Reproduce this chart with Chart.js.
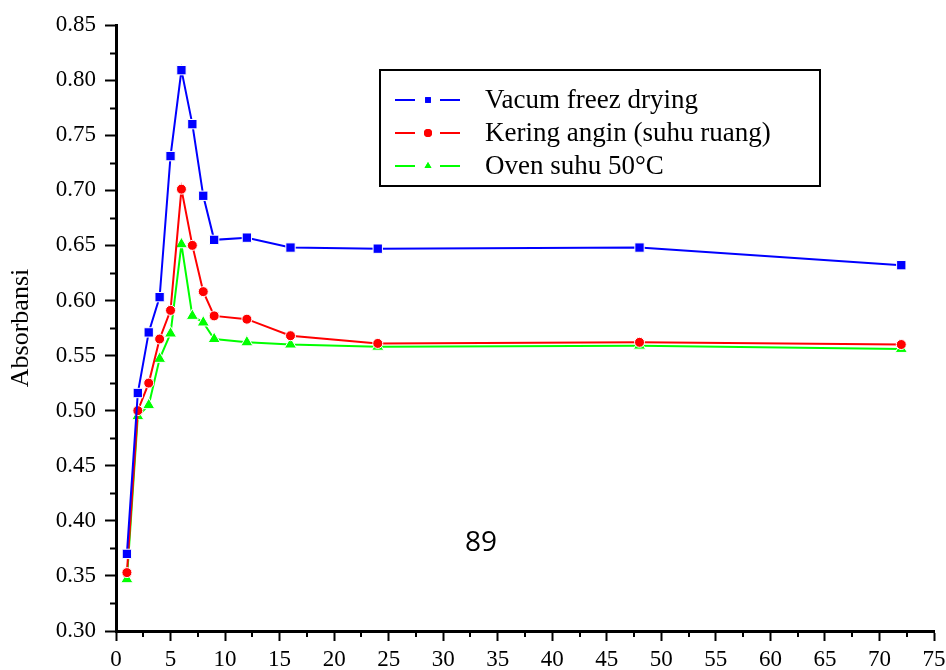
<!DOCTYPE html>
<html>
<head>
<meta charset="utf-8">
<script src="https://cdn.jsdelivr.net/npm/chart.js@4.4.1/dist/chart.umd.min.js"></script>
<style>
    html, body { margin: 0; padding: 0; background: #fff; }
    #wrap { width: 946px; height: 670px; }
</style>
</head>
<body>
<div id="wrap"><canvas id="line-chart" width="946" height="670"></canvas></div>
<script>
// waktu (x) dan absorbansi tiap metode pengeringan
var hours = [1, 2, 3, 4, 5, 6, 7, 8, 9, 12, 16, 24, 48, 72];
var vacumFreez = [0.370, 0.516, 0.571, 0.603, 0.731, 0.809, 0.760, 0.695, 0.655, 0.657, 0.648, 0.647, 0.648, 0.632];
var keringAngin = [0.353, 0.500, 0.525, 0.565, 0.591, 0.701, 0.650, 0.608, 0.586, 0.583, 0.568, 0.561, 0.562, 0.560];
var ovenSuhu = [0.347, 0.495, 0.505, 0.547, 0.570, 0.651, 0.586, 0.580, 0.565, 0.562, 0.560, 0.558, 0.559, 0.556];

var seriesNames = ["Vacum freez drying", "Kering angin (suhu ruang)", "Oven suhu 50\u00B0C"];
var xTicks = [0, 5, 10, 15, 20, 25, 30, 35, 40, 45, 50, 55, 60, 65, 70, 75];
var yTicks = [0.30, 0.35, 0.40, 0.45, 0.50, 0.55, 0.60, 0.65, 0.70, 0.75, 0.80, 0.85];
var pageNumber = "89";

var serif = "'Liberation Serif', 'Times New Roman', serif";

function toPoints(ys) {
    return hours.map(function (h, i) { return {x: h, y: ys[i]}; });
}

var colorArr = ["#0000FF", "#FF0000", "#00FF00"];
var styleArr = ["rect", "circle", "triangle"];
var radiusArr = [6.6, 5, 7];

var dataObject = [vacumFreez, keringAngin, ovenSuhu].map(function (ys, i) {
    return {
        label: seriesNames[i],
        data: toPoints(ys),
        borderColor: colorArr[i],
        backgroundColor: colorArr[i],
        borderWidth: 2,
        pointStyle: styleArr[i],
        pointRadius: radiusArr[i],
        pointBackgroundColor: colorArr[i],
        pointBorderColor: "#ffffff",
        pointBorderWidth: 1,
        fill: false,
        tension: 0
    };
});

// kotak legenda di dalam area plot + tick minor + nomor halaman
var extras = {
    id: "extras",
    afterDraw: function (chart) {
        var ctx = chart.ctx;
        var xs = chart.scales.x, ys = chart.scales.y;
        ctx.save();

        // minor ticks
        ctx.strokeStyle = "#000";
        ctx.lineWidth = 2;
        ctx.beginPath();
        for (var v = 0.325; v < 0.85; v += 0.05) {
            var py = Math.round(ys.getPixelForValue(v)) + 0.5;
            ctx.moveTo(ys.right - 6, py);
            ctx.lineTo(ys.right, py);
        }
        for (var u = 2.5; u < 75; u += 5) {
            var px = Math.round(xs.getPixelForValue(u));
            ctx.moveTo(px, xs.top);
            ctx.lineTo(px, xs.top + 6);
        }
        ctx.stroke();

        // legend box
        ctx.lineWidth = 2;
        ctx.strokeRect(380, 70, 440, 116);
        var rows = [100, 133, 166];
        chart.data.datasets.forEach(function (ds, i) {
            var y = rows[i];
            ctx.strokeStyle = ds.borderColor;
            ctx.lineWidth = 2;
            ctx.beginPath();
            ctx.moveTo(395, y); ctx.lineTo(415, y);
            ctx.moveTo(440, y); ctx.lineTo(460, y);
            ctx.stroke();
            ctx.fillStyle = ds.borderColor;
            Chart.helpers.drawPoint(ctx, {pointStyle: ds.pointStyle, radius: 4, borderWidth: 0}, 428, y);
            ctx.fill();
            ctx.fillStyle = "#000";
            ctx.font = "27px " + serif;
            ctx.textBaseline = "middle";
            ctx.textAlign = "left";
            ctx.fillText(ds.label, 485, y + 1);
        });

        // page number
        ctx.fillStyle = "#000";
        ctx.font = "28px 'Open Sans', sans-serif";
        ctx.textAlign = "center";
        ctx.textBaseline = "middle";
        ctx.fillText(pageNumber, 481, 543);
        ctx.restore();
    }
};

new Chart(document.getElementById("line-chart"), {
    type: "line",
    data: {datasets: dataObject},
    plugins: [extras],
    options: {
        responsive: false,
        animation: false,
        devicePixelRatio: 1,
        layout: {padding: {left: 0, right: 12, top: 25, bottom: 0}},
        plugins: {
            legend: {display: false},
            tooltip: {enabled: false}
        },
        scales: {
            x: {
                type: "linear",
                min: 0,
                max: 75,
                afterFit: function (scale) {
                    scale.height = 39;
                    scale.paddingLeft = 0;
                    scale.paddingRight = 0;
                },
                afterBuildTicks: function (scale) {
                    scale.ticks = xTicks.map(function (v) { return {value: v}; });
                },
                border: {display: true, color: "#000", width: 3},
                grid: {display: true, drawOnChartArea: false, drawTicks: true, tickLength: 10, tickWidth: 2, tickColor: "#000"},
                ticks: {color: "#000", padding: 5, maxRotation: 0, autoSkip: false, font: {family: serif, size: 23}}
            },
            y: {
                type: "linear",
                min: 0.30,
                max: 0.85,
                afterFit: function (scale) { scale.width = 116; },
                afterBuildTicks: function (scale) {
                    scale.ticks = yTicks.map(function (v) { return {value: v}; });
                },
                border: {display: true, color: "#000", width: 3},
                grid: {display: true, drawOnChartArea: false, drawTicks: true, tickLength: 11, tickWidth: 2, tickColor: "#000"},
                title: {display: true, text: "Absorbansi", color: "#000", padding: {top: 6, bottom: 0}, font: {family: serif, size: 26}},
                ticks: {
                    color: "#000",
                    padding: 9,
                    autoSkip: false,
                    font: {family: serif, size: 23},
                    callback: function (v) { return Number(v).toFixed(2); }
                }
            }
        }
    }
});
</script>
</body>
</html>
